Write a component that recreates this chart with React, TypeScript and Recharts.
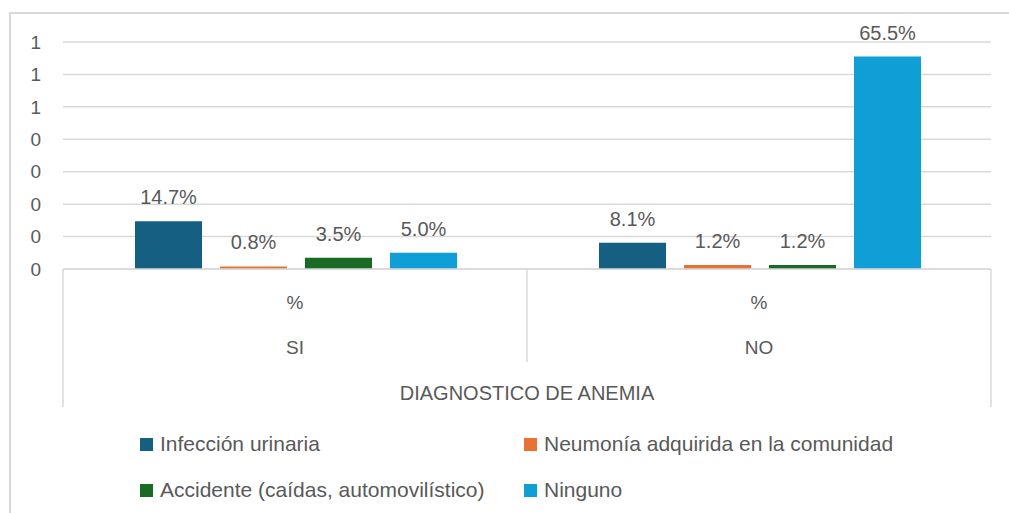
import { BarChart, Bar, XAxis, YAxis, CartesianGrid, LabelList, Legend } from 'recharts';

const CATEGORIES = ['SI', 'NO'];
const SUB_LABEL = '%';
const AXIS_TITLE = 'DIAGNOSTICO DE ANEMIA';
const INFECCION = [0.147, 0.081];
const NEUMONIA = [0.008, 0.012];
const ACCIDENTE = [0.035, 0.012];
const NINGUNO = [0.05, 0.655];
const Y_TICKS = [0, 0.1, 0.2, 0.3, 0.4, 0.5, 0.6, 0.7];

const SERIES = [
  { key: 'inf', name: 'Infección urinaria', color: '#156082' },
  { key: 'neu', name: 'Neumonía adquirida en la comunidad', color: '#E97132' },
  { key: 'acc', name: 'Accidente (caídas, automovilístico)', color: '#196B24' },
  { key: 'nin', name: 'Ninguno', color: '#0F9ED5' },
];

const data = CATEGORIES.map((cat, i) => ({
  cat,
  inf: INFECCION[i],
  neu: NEUMONIA[i],
  acc: ACCIDENTE[i],
  nin: NINGUNO[i],
}));

const W = 1009;
const H = 513;
const Y_W = 63;
const M_RIGHT = 18;
const BAND = (W - Y_W - M_RIGHT) / CATEGORIES.length;
const FONT = '"Liberation Sans", Arial, sans-serif';
const TEXT = '#595959';
const LINE = '#d9d9d9';

function CatTick(props: any) {
  const { x, y, payload, index } = props;
  const last = index === CATEGORIES.length - 1;
  return (
    <g>
      {index === 0 && (
        <line x1={x - BAND / 2} x2={x - BAND / 2} y1={y} y2={y + 138} stroke={LINE} strokeWidth={1.5} />
      )}
      <line x1={x + BAND / 2} x2={x + BAND / 2} y1={y} y2={y + (last ? 138 : 93)} stroke={LINE} strokeWidth={1.5} />
      <text x={x} y={y + 33} dy="0.35em" textAnchor="middle" fill={TEXT} fontSize={19} fontFamily={FONT}>
        {SUB_LABEL}
      </text>
      <text x={x} y={y + 78} dy="0.35em" textAnchor="middle" fill={TEXT} fontSize={19} fontFamily={FONT}>
        {payload.value}
      </text>
      {index === 0 && (
        <text
          x={x + BAND / 2}
          y={y + 124}
          dy="0.35em"
          textAnchor="middle"
          fill={TEXT}
          fontSize={20}
          fontFamily={FONT}
        >
          {AXIS_TITLE}
        </text>
      )}
    </g>
  );
}

const legendPos = [
  { left: 140, top: 24 },
  { left: 524, top: 24 },
  { left: 140, top: 70 },
  { left: 524, top: 70 },
];

function LegendBox() {
  return (
    <div style={{ position: 'relative', width: W, height: 93 }}>
      {SERIES.map((s, i) => (
        <div
          key={s.key}
          style={{
            position: 'absolute',
            left: legendPos[i].left,
            top: legendPos[i].top - 12,
            height: 24,
            display: 'flex',
            alignItems: 'center',
            fontFamily: FONT,
            fontSize: 21,
            color: TEXT,
            whiteSpace: 'nowrap',
          }}
        >
          <span style={{ width: 13, height: 13, background: s.color, marginRight: 7, display: 'inline-block' }} />
          {s.name}
        </div>
      ))}
    </div>
  );
}

export default function App() {
  return (
    <div style={{ position: 'absolute', left: 0, top: 0, width: W, height: H, background: '#fff', overflow: 'hidden' }}>
      <div
        style={{
          position: 'absolute',
          left: 9,
          top: 12,
          width: 1100,
          height: 700,
          border: `2px solid ${LINE}`,
          boxSizing: 'border-box',
        }}
      />
      <div style={{ position: 'absolute', left: 0, top: 0 }}>
        <BarChart
          width={W}
          height={H}
          data={data}
          margin={{ top: 42, right: M_RIGHT, bottom: 0, left: 0 }}
          barCategoryGap={72}
          barGap={18}
        >
          <CartesianGrid vertical={false} stroke={LINE} strokeWidth={1.5} />
          <XAxis
            dataKey="cat"
            height={151}
            axisLine={{ stroke: LINE, strokeWidth: 1.5 }}
            tickLine={false}
            tickSize={0}
            tickMargin={0}
            tick={<CatTick />}
            interval={0}
          />
          <YAxis
            width={Y_W}
            domain={[0, 0.7]}
            ticks={Y_TICKS}
            axisLine={false}
            tickLine={false}
            tickMargin={16}
            tickFormatter={(v: number) => String(Math.round(v))}
            tick={{ fill: TEXT, fontSize: 19, fontFamily: FONT }}
            interval={0}
          />
          <Legend
            verticalAlign="bottom"
            wrapperStyle={{ position: 'absolute', left: 0, top: 420, width: W, height: 93 }}
            content={() => <LegendBox />}
          />
          {SERIES.map((s) => (
            <Bar key={s.key} dataKey={s.key} name={s.name} fill={s.color} isAnimationActive={false}>
              <LabelList
                dataKey={s.key}
                position="top"
                offset={17}
                fill={TEXT}
                fontSize={20}
                fontFamily={FONT}
                formatter={(v: any) => `${(Number(v) * 100).toFixed(1)}%`}
              />
            </Bar>
          ))}
        </BarChart>
      </div>
    </div>
  );
}
